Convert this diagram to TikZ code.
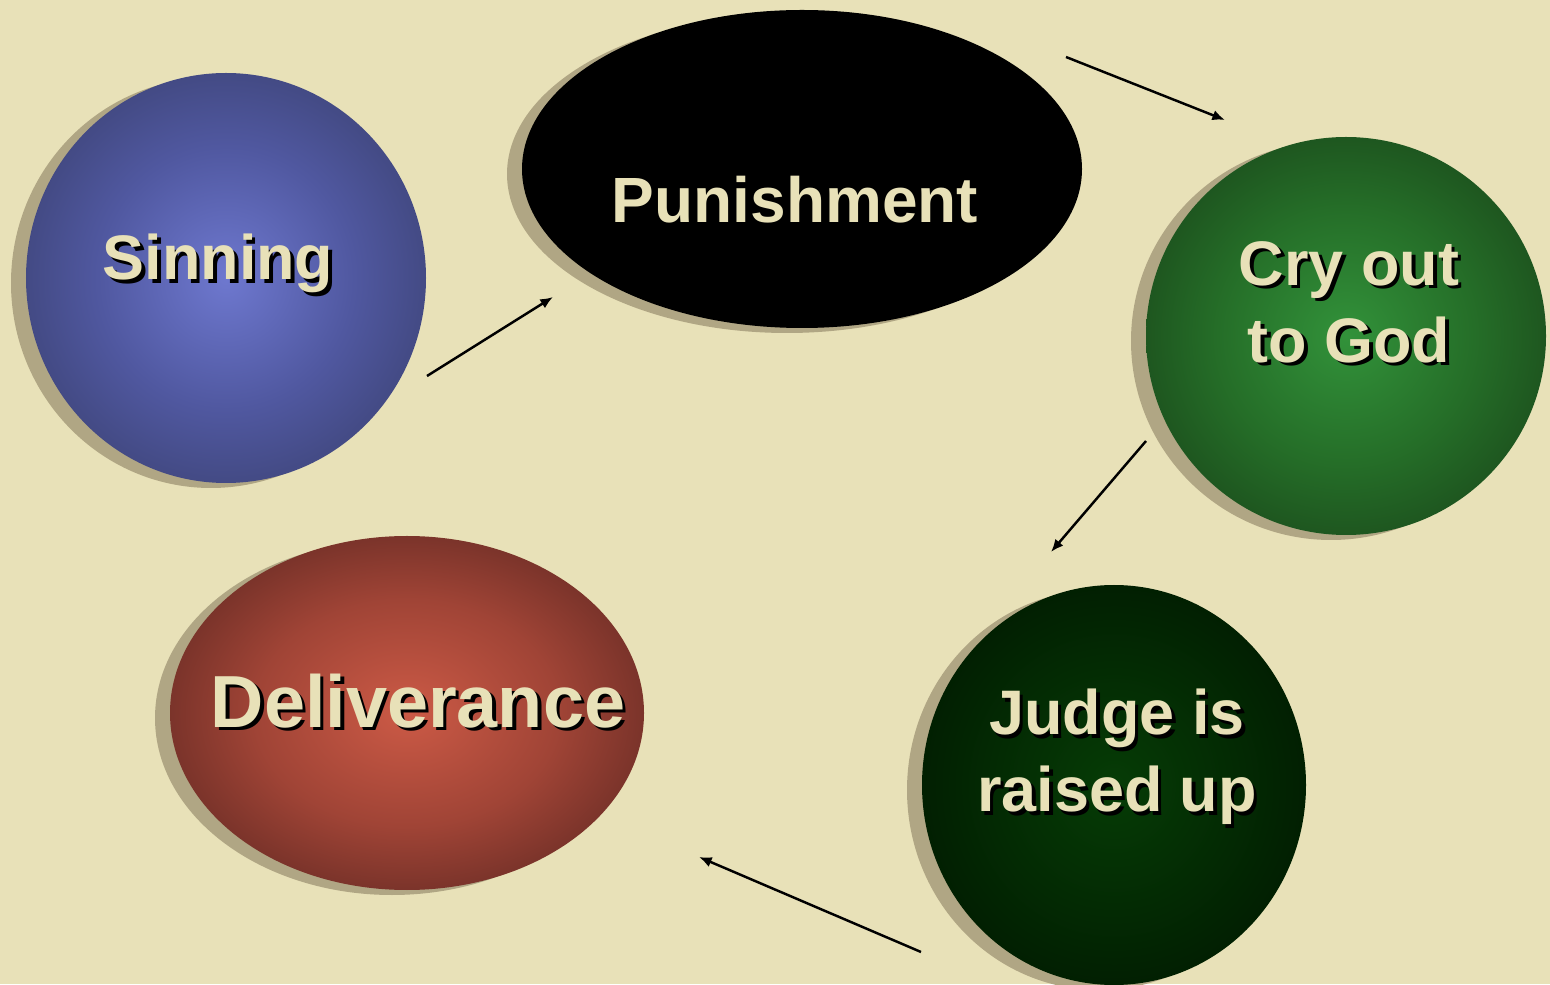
\documentclass[tikz,border=0pt]{standalone}
\usepackage{fontspec}
\setmainfont{Liberation Sans}
\usetikzlibrary{shapes.geometric}
\usetikzlibrary{shadows}
\usetikzlibrary{arrows.meta}
\usetikzlibrary{positioning}

\definecolor{paper}{HTML}{E8E1B8}
\definecolor{dropc}{HTML}{B0A684}
\definecolor{sinA}{HTML}{6E78CF}
\definecolor{sinM}{HTML}{5058A0}
\definecolor{sinB}{HTML}{383E6C}
\definecolor{cryA}{HTML}{32923A}
\definecolor{cryM}{HTML}{256E28}
\definecolor{cryB}{HTML}{184218}
\definecolor{judA}{HTML}{063C06}
\definecolor{judM}{HTML}{032A03}
\definecolor{judB}{HTML}{001600}
\definecolor{delA}{HTML}{CC5A46}
\definecolor{delM}{HTML}{A04436}
\definecolor{delB}{HTML}{5A2520}

\pgfdeclareradialshading{sinshade}{\pgfpoint{0bp}{0bp}}{color(0bp)=(sinA); color(16bp)=(sinM); color(33bp)=(sinB); color(50bp)=(sinB)}
\pgfdeclareradialshading{cryshade}{\pgfpoint{0bp}{0bp}}{color(0bp)=(cryA); color(16bp)=(cryM); color(33bp)=(cryB); color(50bp)=(cryB)}
\pgfdeclareradialshading{judshade}{\pgfpoint{0bp}{0bp}}{color(0bp)=(judA); color(16bp)=(judM); color(33bp)=(judB); color(50bp)=(judB)}
\pgfdeclareradialshading{delshade}{\pgfpoint{0bp}{0bp}}{color(0bp)=(delA); color(16bp)=(delM); color(33bp)=(delB); color(50bp)=(delB)}

\newcommand{\shadowed}[1]{\makebox[0pt][l]{\hspace{1pt}\raisebox{-1pt}{\color{black}#1}}#1}

\begin{document}
\begin{tikzpicture}[
  stage/.style={ellipse, inner sep=0pt,
    drop shadow={shadow xshift=-0.15cm, shadow yshift=-0.05cm, fill=dropc, opacity=1}},
  lbl/.style={text=paper, align=center, font=\fontsize{17.9}{21.9}\selectfont\bfseries},
  flow/.style={-{Latex[length=3.6pt,width=3pt]}, line width=0.7pt}
]
\useasboundingbox (0,0) rectangle (15.5,9.84);
\fill[paper] (0,0) rectangle (15.5,9.84);

% the five stages
\node[stage, shade, shading=sinshade, minimum width=4cm, minimum height=4.1cm] (sinning) at (2.26,7.06) {};
\node[stage, fill=black, minimum width=5.6cm, minimum height=3.18cm] (punish) at (8.02,8.15) {};
\node[stage, shade, shading=cryshade, minimum width=4cm, minimum height=3.98cm] (cry) at (13.46,6.48) {};
\node[stage, shade, shading=judshade, minimum width=3.84cm, minimum height=4cm] (judge) at (11.14,1.99) {};
\node[stage, shade, shading=delshade, minimum width=4.74cm, minimum height=3.54cm] (deliver) at (4.07,2.71) {};

\node[lbl, anchor=base] (sinningT) at (2.18,7.04) {\shadowed{Sinning}};
\node[lbl, anchor=base, font=\fontsize{18.2}{22}\selectfont\bfseries] (punishT) at (7.95,7.61) {Punishment};
\node[lbl] (cryT) at (13.49,6.80) {\shadowed{Cry out}\\\shadowed{to God}};
\node[lbl] (judgeT) at (11.17,2.255) {\shadowed{Judge is}\\\shadowed{raised up}};
\node[lbl, anchor=base, font=\fontsize{21}{25}\selectfont\bfseries] (deliverT) at (4.18,2.57) {\shadowed{Deliverance}};

% arrow ends
\coordinate (a1s) at (4.27,6.08);
\coordinate (a1e) at (5.53,6.87);
\coordinate (a2s) at (10.66,9.27);
\coordinate (a2e) at (12.25,8.64);
\coordinate (a3s) at (11.46,5.43);
\coordinate (a3e) at (10.51,4.32);
\coordinate (a4s) at (9.21,0.32);
\coordinate (a4e) at (6.99,1.27);

\draw[flow] (a1s) -- (a1e);
\draw[flow] (a2s) -- (a2e);
\draw[flow] (a3s) -- (a3e);
\draw[flow] (a4s) -- (a4e);
\end{tikzpicture}
\end{document}
